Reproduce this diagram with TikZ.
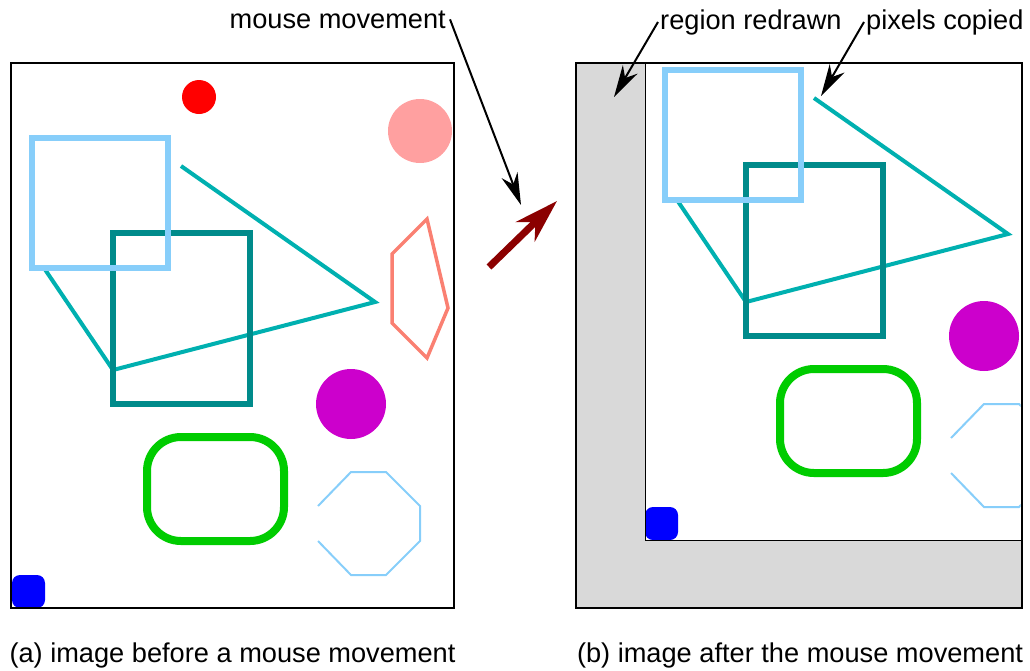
\documentclass[tikz,border=0pt]{standalone}
\usepackage{fontspec}
\setmainfont{Liberation Sans}
\usepackage{tikz}
\usetikzlibrary{arrows.meta,positioning}
\definecolor{skyline}{HTML}{87CEFA}
\definecolor{tealbox}{HTML}{008B8B}
\definecolor{tealline}{HTML}{00B0B0}
\definecolor{pinkdot}{HTML}{FFA0A0}
\definecolor{salmonline}{HTML}{FA8072}
\definecolor{magentadot}{HTML}{CC00CC}
\definecolor{greenbox}{HTML}{00CC00}
\definecolor{redrawgray}{HTML}{D9D9D9}
\definecolor{movecolor}{HTML}{8B0000}

\newcommand{\drawscene}{%
    \fill[red] (199,97) circle (17pt);
    \fill[pinkdot] (420,131) circle (32pt);
    \draw[tealline, line width=4pt] (181,166) -- (375,302) -- (113,370) -- (44,268);
    \draw[tealbox, line width=6pt] (113,233) rectangle (250,404);
    \draw[skyline, line width=6pt] (32,138) rectangle (168,268);
    \draw[salmonline, line width=3.5pt]
        (427,219) -- (448,308) -- (427,358) -- (392,323) -- (392,254) -- cycle;
    \fill[magentadot] (351,404) circle (35pt);
    \draw[greenbox, line width=8pt, rounded corners=34pt] (147,437) rectangle (284,541);
    \draw[skyline, line width=2pt]
        (318,506) -- (351,472) -- (386,472) -- (420,506)
        -- (420,541) -- (386,575) -- (351,575) -- (318,541);
    \fill[blue, rounded corners=8pt] (12,575) rectangle (45,608);
}

\begin{document}
\begin{tikzpicture}[
        x=1pt,
        y=-1pt,
        labeltext/.style={font=\fontsize{27.2pt}{31pt}\selectfont, inner sep=2pt},
        frame/.style={draw=black, line width=2pt},
        pointer/.style={-{Stealth[length=32pt, width=17pt, inset=10pt]}, line width=2pt},
        movearrow/.style={-{Stealth[length=44pt, width=27pt, inset=14pt]}, line width=7pt, movecolor}
    ]
        \useasboundingbox (0,0) rectangle (1030,670);

        \drawscene
        \draw[frame] (11,63) rectangle (454,608);

        \fill[redrawgray] (576,63) rectangle (1022,608);
        \fill[white] (645,63) rectangle (1021,540);
        \begin{scope}
            \clip (645,63) rectangle (1020.5,540);
            \begin{scope}[shift={(633,-68)}]
                \drawscene
            \end{scope}
        \end{scope}
        \draw[line width=1pt] (645,63) rectangle (1021,540);
        \draw[frame] (576,63) rectangle (1022,608);

        \node[labeltext, anchor=base east] (mouse) at (448,28) {mouse movement};
        \node[labeltext, anchor=base west] (redrawn) at (658,29) {region redrawn};
        \node[labeltext, anchor=base west] (copied) at (864,29) {pixels copied};

        \coordinate (mousetip) at (521,205);
        \coordinate (redrawntip) at (614,97);
        \coordinate (copiedtip) at (821,96);
        \coordinate (movefrom) at (489,267);
        \coordinate (moveto) at (557,201);

        \draw[pointer] ([xshift=2pt]mouse.east) -- (mousetip);
        \draw[pointer] (redrawn.west) -- (redrawntip);
        \draw[pointer] (copied.west) -- (copiedtip);
        \draw[movearrow] (movefrom) -- (moveto);

        \node[labeltext, anchor=base] (capbefore) at (232.5,662.5)
            {(a) image before a mouse movement};
        \node[labeltext, anchor=base] (capafter) at (800,662.5)
            {(b) image after the mouse movement};
    \end{tikzpicture}
\end{document}
